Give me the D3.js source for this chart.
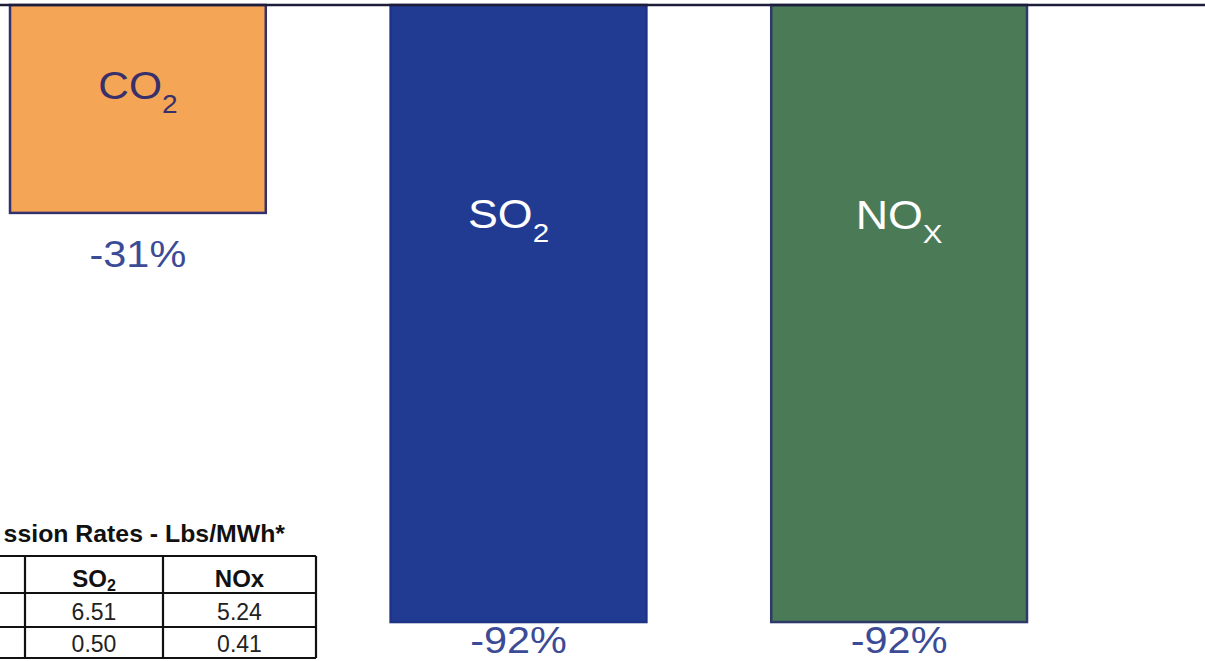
<!DOCTYPE html>
<html>
<head>
<meta charset="utf-8">
<script src="https://cdn.jsdelivr.net/npm/d3@7"></script>
<style>
  html, body { margin: 0; padding: 0; background: #ffffff; }
  svg { display: block; }
</style>
</head>
<body>
<svg id="chart" width="1205" height="661"></svg>
<script>
// ---- data ----
const categories = ["CO2", "SO2", "NOx"];
const changes = [-31, -92, -92];
const labelMain = ["CO", "SO", "NO"];
const labelSub = ["2", "2", "X"];
const tableTitle = "ssion Rates - Lbs/MWh*";   // visible part of the cropped title
const tableHeaderMain = ["SO", "NOx"];
const tableHeaderSub = ["2", ""];
const tableRow1 = ["6.51", "5.24"];
const tableRow2 = ["0.50", "0.41"];

// ---- style / layout ----
const W = 1205, H = 661;
const fills = ["#f5a556", "#213b93", "#4b7a57"];
const strokes = ["#33306e", "#1d3385", "#2e3a6a"];
const labelColors = ["#38306a", "#ffffff", "#ffffff"];
const valueColor = "#3c4b96";
const font = "'Liberation Sans', Arial, Helvetica, sans-serif";
const sx = 1.12; // horizontal stretch of the reference's lettering

const svg = d3.select("#chart");

const x = d3.scaleBand().domain(categories).range([10, 1027]).paddingInner(0.328).paddingOuter(0);
const y = d3.scaleLinear().domain([0, -100]).range([5, 675.7]);

const bars = categories.map((c, i) => ({ c, v: changes[i], i }));

// bars
svg.selectAll("rect.bar").data(bars).enter().append("rect")
  .attr("class", "bar")
  .attr("x", d => x(d.c))
  .attr("y", y(0))
  .attr("width", x.bandwidth())
  .attr("height", d => y(d.v) - y(0))
  .attr("fill", d => fills[d.i])
  .attr("stroke", d => strokes[d.i])
  .attr("stroke-width", 2.5);

// baseline
svg.append("line")
  .attr("x1", 0).attr("x2", W)
  .attr("y1", y(0)).attr("y2", y(0))
  .attr("stroke", "#1d1d3a").attr("stroke-width", 2.5);

// in-bar labels
const labelSize = [38, 40, 40];
const labelBase = [99, 228, 229];
const labelShift = [0, -10, 0];
bars.forEach(d => {
  const cx = x(d.c) + x.bandwidth() / 2 + labelShift[d.i];
  const t = svg.append("text")
    .attr("transform", `translate(${cx},${labelBase[d.i]}) scale(${sx},1)`)
    .attr("text-anchor", "middle")
    .attr("font-family", font)
    .attr("font-size", labelSize[d.i])
    .attr("fill", labelColors[d.i]);
  t.append("tspan").text(labelMain[d.i]);
  t.append("tspan").attr("font-size", labelSize[d.i] * 0.66).attr("dy", labelSize[d.i] * 0.36).text(labelSub[d.i]);
});

// value labels under bars
svg.selectAll("text.val").data(bars).enter().append("text")
  .attr("class", "val")
  .attr("transform", d => `translate(${x(d.c) + x.bandwidth() / 2},${Math.min(y(d.v) + 54, 653)}) scale(${sx},1)`)
  .attr("text-anchor", "middle")
  .attr("font-family", font)
  .attr("font-size", 37)
  .attr("fill", valueColor)
  .text(d => String(d.v) + "%");

// ---- table (partially cropped at left) ----
const tx = [-140, 25, 163, 316];   // column edges
const ty = [556, 593, 627, 658];   // row edges
const tg = svg.append("g");
tg.append("text")
  .attr("transform", `translate(285,542) scale(1.08,1)`)
  .attr("text-anchor", "end")
  .attr("font-family", font).attr("font-weight", "bold").attr("font-size", 23)
  .attr("fill", "#111").text(tableTitle);

ty.forEach(yy => tg.append("line").attr("x1", tx[0]).attr("x2", tx[3]).attr("y1", yy).attr("y2", yy)
  .attr("stroke", "#111").attr("stroke-width", 2.2));
tx.slice(1).forEach(xx => tg.append("line").attr("x1", xx).attr("x2", xx).attr("y1", ty[0]).attr("y2", ty[3])
  .attr("stroke", "#111").attr("stroke-width", 2.2));

const colCenter = [ (tx[1] + tx[2]) / 2, (tx[2] + tx[3]) / 2 ];
tableHeaderMain.forEach((h, j) => {
  const t = tg.append("text").attr("x", colCenter[j]).attr("y", 587)
    .attr("text-anchor", "middle").attr("font-family", font).attr("font-weight", "bold")
    .attr("font-size", 24).attr("fill", "#111");
  t.append("tspan").text(h);
  if (tableHeaderSub[j]) t.append("tspan").attr("font-size", 16).attr("dy", 4).text(tableHeaderSub[j]);
});
[tableRow1, tableRow2].forEach((row, r) => {
  row.forEach((v, j) => {
    tg.append("text").attr("x", colCenter[j]).attr("y", [620, 652][r])
      .attr("text-anchor", "middle").attr("font-family", font)
      .attr("font-size", 23).attr("fill", "#222").text(v);
  });
});
</script>
</body>
</html>
